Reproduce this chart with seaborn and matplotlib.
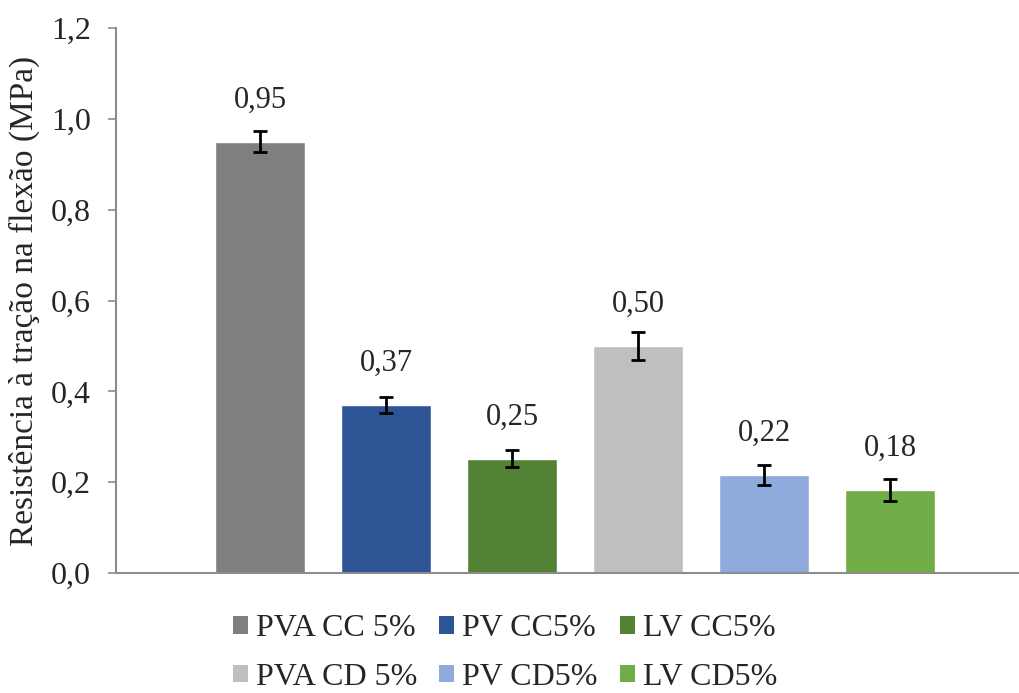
import matplotlib
matplotlib.use("Agg")
import matplotlib.pyplot as plt
import seaborn as sns
import pandas as pd
from matplotlib.patches import Patch

categories = ["PVA CC 5%", "PV CC5%", "LV CC5%", "PVA CD 5%", "PV CD5%", "LV CD5%"]
values = [0.95, 0.37, 0.252, 0.50, 0.215, 0.183]
errors = [0.023, 0.018, 0.018, 0.031, 0.022, 0.024]
labels = ["0,95", "0,37", "0,25", "0,50", "0,22", "0,18"]
colors = ["#7F7F7F", "#2F5597", "#548235", "#BFBFBF", "#8FAADC", "#70AD47"]
yticks = [0.0, 0.2, 0.4, 0.6, 0.8, 1.0, 1.2]
ytick_labels = ["0,0", "0,2", "0,4", "0,6", "0,8", "1,0", "1,2"]
ylabel = "Resistência à tração na flexão (MPa)"

sns.set_theme(style="white")
plt.rcParams["font.family"] = ["Liberation Serif", "DejaVu Serif"]

df = pd.DataFrame({"cat": categories, "val": values})

fig = plt.figure(figsize=(10.19, 6.93), dpi=100)
ax = fig.add_axes([116 / 1019, 120 / 693, 1 - 116 / 1019, 545 / 693])

sns.barplot(data=df, x="cat", y="val", hue="cat", palette=colors,
            order=categories, hue_order=categories, dodge=False,
            width=0.714, legend=False, ax=ax, saturation=1)

xs = list(range(len(categories)))
ax.errorbar(xs, values, yerr=errors, fmt="none", ecolor="black",
            elinewidth=2, capsize=5, capthick=2)

for x, v, t in zip(xs, values, labels):
    ax.annotate(t, (x, v), xytext=(0, 30), textcoords="offset points",
                ha="center", va="center", fontsize=22)

ax.set_ylim(0, 1.2)
ax.set_xlim(-1.143, 6.02)
ax.set_yticks(yticks)
ax.set_yticklabels(ytick_labels, fontsize=23)
ax.set_xticks([])
ax.set_xlabel("")
ax.set_ylabel(ylabel, fontsize=24, labelpad=8)

for s in ["top", "right"]:
    ax.spines[s].set_visible(False)
for s in ["left", "bottom"]:
    ax.spines[s].set_color("#8C8C8C")
    ax.spines[s].set_linewidth(1.5)
ax.tick_params(axis="y", which="both", left=True, direction="out",
               length=6, width=1.2, color="#8C8C8C", pad=12)

order = [0, 3, 1, 4, 2, 5]
handles = [Patch(facecolor=colors[i], edgecolor="none") for i in order]
names = [categories[i] for i in order]
fig.legend(handles, names, ncol=3, loc="center", bbox_to_anchor=(505 / 1019, 1 - 653 / 693),
           frameon=False, fontsize=23, handlelength=0.47, handleheight=0.47,
           handletextpad=0.25, columnspacing=0.7, labelspacing=0.62,
           borderpad=0.0)

fig.savefig("out.png", dpi=100)
